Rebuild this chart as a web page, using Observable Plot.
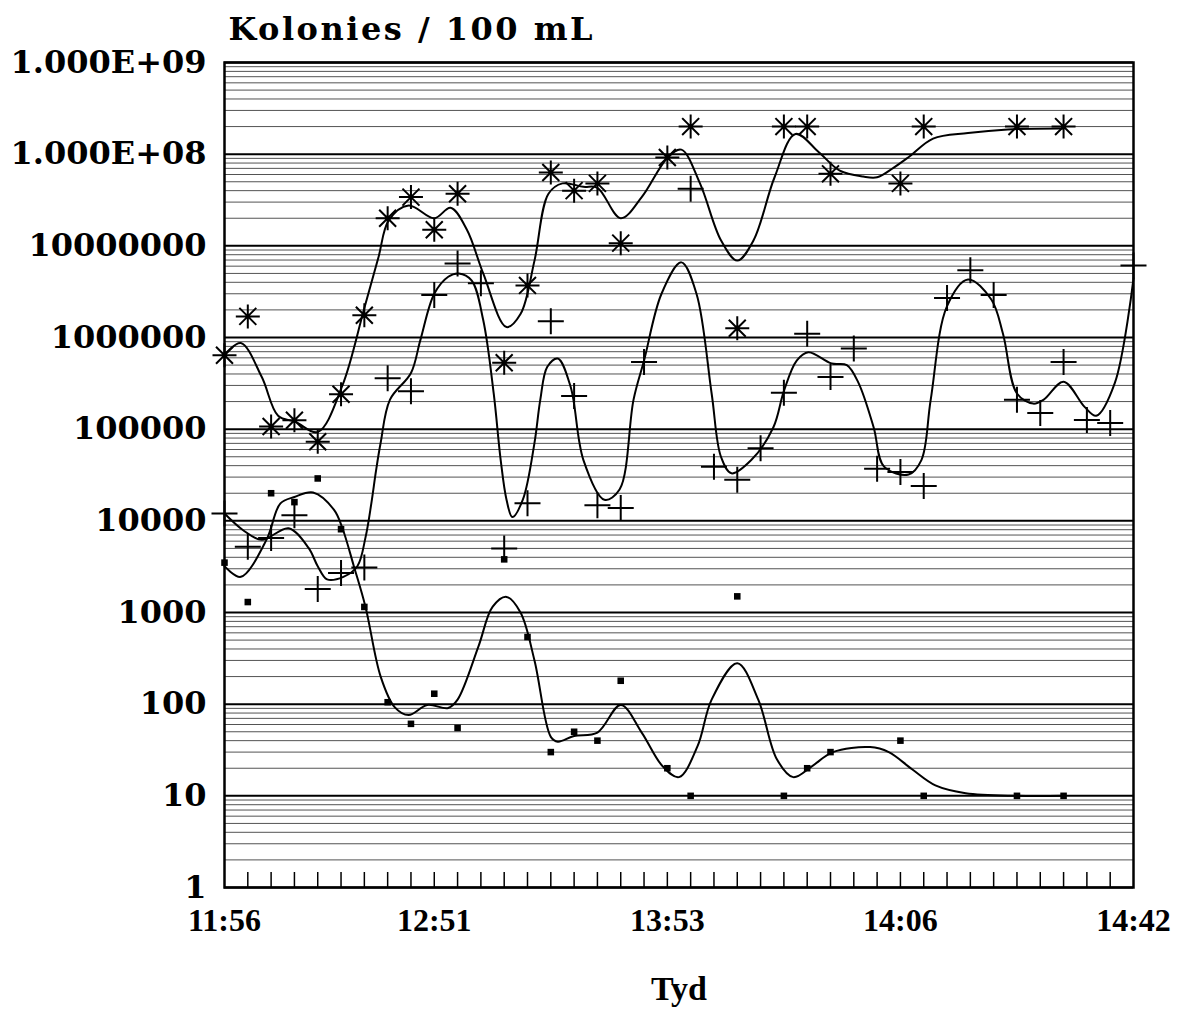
<!DOCTYPE html>
<html><head><meta charset="utf-8">
<script src="https://cdn.jsdelivr.net/npm/d3@7"></script>
<script src="https://cdn.jsdelivr.net/npm/@observablehq/plot@0.6"></script>
<style>html,body{margin:0;padding:0;background:#fff} svg{display:block} .title-text{letter-spacing:2.5px}</style>
</head><body><div id="chart"></div>
<script>
// ---- axis labels ----
const titleText = "Kolonies / 100 mL";
const xAxisTitle = "Tyd";
const xTickPositions = [0, 9, 19, 29, 39];
const xTickLabels = ["11:56", "12:51", "13:53", "14:06", "14:42"];
const yTicks = [1, 10, 100, 1000, 1e4, 1e5, 1e6, 1e7, 1e8, 1e9];
const yTickLabels = ["1", "10", "100", "1000", "10000", "100000", "1000000", "10000000", "1.000E+08", "1.000E+09"];
const sampleCount = 40;

// ---- measured points (sample index, colonies / 100 mL) ----
const asteriskIdx = [0,1,2,3,4,5,6,7,8,9,10,12,13,14,15,16,17,19,20,22,24,25,26,29,30,34,36];
const asteriskVal = [6.4e5,1.7e6,1.07e5,1.25e5,7.3e4,2.4e5,1.75e6,2.0e7,3.4e7,1.5e7,3.7e7,5.3e5,3.7e6,6.3e7,4.0e7,4.8e7,1.07e7,9.2e7,2e8,1.26e6,2e8,2e8,6.1e7,4.8e7,2e8,2e8,2e8];

const plusIdx = [0,1,2,3,4,5,6,7,8,9,10,11,12,13,14,15,16,17,18,20,21,22,23,24,25,26,27,28,29,30,31,32,33,34,35,36,37,38,39];
const plusVal = [1.2e4,5.2e3,6.5e3,1.15e4,1.8e3,2.7e3,3.1e3,3.6e5,2.6e5,2.9e6,6.4e6,3.9e6,5.0e3,1.56e4,1.5e6,2.3e5,1.48e4,1.38e4,5.4e5,4.2e7,3.9e4,2.8e4,6.2e4,2.5e5,1.1e6,3.7e5,7.6e5,3.7e4,3.4e4,2.4e4,2.7e6,5.4e6,2.9e6,2.1e5,1.5e5,5.4e5,1.26e5,1.17e5,6.1e6];

const squareIdx = [0,1,2,3,4,5,6,7,8,9,10,12,13,14,15,16,17,19,20,22,24,25,26,29,30,34,36];
const squareVal = [3.5e3,1.3e3,2.0e4,1.6e4,2.9e4,8.1e3,1.15e3,105,61,130,55,3.8e3,540,30,50,40,180,20,10,1.5e3,10,20,30,40,10,10,10];

// ---- smoothed curves (position in sample units, value) ----
const asteriskCurveX = [0,0.7,1.6,2.3,3.05,4.0,5.06,6.0,6.6,7.05,7.9,9.0,9.7,10.4,11.1,12.1,12.7,13.3,13.9,14.5,15.4,16.0,17.0,17.9,19.0,19.6,20.4,21.3,22.0,22.7,23.6,24.5,25.5,26.4,27.4,28.0,28.7,29.4,30.4,31.9,33.6,36.0];
const asteriskCurveY = [6.5e5,8.7e5,3.7e5,1.4e5,1.2e5,9.3e4,3.0e5,2.1e6,7.4e6,1.9e7,2.75e7,2.0e7,2.6e7,1.5e7,5.0e6,1.3e6,1.8e6,6.9e6,3.7e7,4.8e7,4.4e7,4.3e7,2.0e7,3.4e7,9.1e7,1.12e8,4.8e7,1.15e7,6.9e6,1.15e7,5.6e7,1.66e8,1.05e8,6.6e7,5.7e7,5.6e7,7.1e7,9.5e7,1.48e8,1.7e8,1.86e8,1.9e8];

const plusCurveX = [0,0.8,1.6,2.75,3.6,4.0,4.4,5.1,5.7,6.05,6.3,6.5,6.7,7.1,8.0,8.4,9.0,9.6,10.05,10.6,11.1,11.55,11.85,12.1,12.35,12.8,13.3,13.55,13.85,14.3,14.85,15.4,16.3,16.95,17.55,18.0,18.75,19.6,20.25,20.9,21.3,21.75,22.6,23.55,24.0,24.55,25.05,26.05,26.7,27.2,27.85,28.3,29.35,29.9,30.3,31.0,31.9,32.9,33.4,34.0,34.7,35.15,36.0,36.9,37.4,38.2,39.0];
const plusCurveY = [1.2e4,7.9e3,6.2e3,8.3e3,5.1e3,3.2e3,2.3e3,2.45e3,3.2e3,6.6e3,1.55e4,3.5e4,7.1e4,2.1e5,4.1e5,9.3e5,3.0e6,4.6e6,5.0e6,4.2e6,1.55e6,2.45e5,4.6e4,1.7e4,1.1e4,1.7e4,7.1e4,2.1e5,4.8e5,5.9e5,2.9e5,4.6e4,1.7e4,2.2e4,2.1e5,5.6e5,3.0e6,6.6e6,3.0e6,2.45e5,5.0e4,3.3e4,4.6e4,1.05e5,2.6e5,5.6e5,6.9e5,5.2e5,5.0e5,3.2e5,1.05e5,3.9e4,3.2e4,4.6e4,2.1e5,2.2e6,4.3e6,2.6e6,1.1e6,2.45e5,1.9e5,2.1e5,3.3e5,1.75e5,1.4e5,3.2e5,4.4e6];

const squareCurveX = [0,0.7,1.8,2.4,3.0,3.8,4.7,5.06,5.55,6.05,6.7,7.3,7.9,8.7,9.6,10.0,10.9,11.5,12.1,12.7,13.3,14.0,14.3,15.0,16.0,17.0,17.9,18.8,19.5,20.3,20.9,22.0,22.9,23.7,24.4,25.2,26.1,27.7,28.5,29.5,30.5,31.8,34.0,36.0];
const squareCurveY = [3200,2450,6200,15500,18200,20400,13200,8300,3200,1150,200,93,76,98,91,112,430,1150,1480,1000,300,44,39,45,49,98,49,21,16,35,112,280,112,25,16,21,30,34,30,19.5,13,10.7,10,10];

// ---- build tables ----
const pts = (xs, ys) => xs.map((x, i) => ({x, y: ys[i]}));
const asteriskPts = pts(asteriskIdx, asteriskVal);
const plusPts = pts(plusIdx, plusVal);
const squarePts = pts(squareIdx, squareVal);
const asteriskCurve = pts(asteriskCurveX, asteriskCurveY);
const plusCurve = pts(plusCurveX, plusCurveY);
const squareCurve = pts(squareCurveX, squareCurveY);

const minorGrid = yTicks.slice(0, -1).flatMap(d => [2,3,4,5,6,7,8,9].map(m => d * m));
const xMinorTicks = d3.range(1, sampleCount - 1);

// custom stroked symbols
const asterisk8 = {draw(ctx) {
  const r = 12, d = r * Math.SQRT1_2;
  ctx.moveTo(-r, 0); ctx.lineTo(r, 0);
  ctx.moveTo(0, -r); ctx.lineTo(0, r);
  ctx.moveTo(-d, -d); ctx.lineTo(d, d);
  ctx.moveTo(-d, d); ctx.lineTo(d, -d);
}};
const plusThin = {draw(ctx) {
  const r = 13;
  ctx.moveTo(-r, 0); ctx.lineTo(r, 0);
  ctx.moveTo(0, -r); ctx.lineTo(0, r);
}};

const plotH = 1013 - 62 - 126;
const chart = Plot.plot({
  width: 1182, height: 1013,
  marginLeft: 224, marginRight: 49, marginTop: 62, marginBottom: 126,
  x: {domain: [0, sampleCount - 1]},
  y: {type: "log", domain: [1, 1e9]},
  style: {fontFamily: "DejaVu Serif", background: "white", color: "black"},
  marks: [
    Plot.ruleY(minorGrid, {stroke: "#1a1a1a", strokeWidth: 1, strokeOpacity: 0.75}),
    Plot.ruleY(yTicks, {stroke: "black", strokeWidth: 2}),
    Plot.tickX(xMinorTicks, {x: d => d, insetTop: plotH - 15, stroke: "black", strokeWidth: 1.5}),
    Plot.frame({stroke: "black", strokeWidth: 2.5}),
    Plot.axisY({ticks: yTicks, tickFormat: d => yTickLabels[yTicks.indexOf(d)], tickSize: 0, tickPadding: 18,
      fontSize: 32, fontWeight: "bold", fontFamily: "DejaVu Serif", label: null}),
    Plot.axisX({ticks: xTickPositions, tickFormat: d => xTickLabels[xTickPositions.indexOf(d)], tickSize: 0, tickPadding: 21,
      fontSize: 32, fontWeight: "bold", fontFamily: "Liberation Serif", label: null}),
    Plot.line(asteriskCurve, {x: "x", y: "y", curve: "catmull-rom", stroke: "black", strokeWidth: 2}),
    Plot.line(plusCurve, {x: "x", y: "y", curve: "catmull-rom", stroke: "black", strokeWidth: 2}),
    Plot.line(squareCurve, {x: "x", y: "y", curve: "catmull-rom", stroke: "black", strokeWidth: 2}),
    Plot.dot(asteriskPts, {x: "x", y: "y", symbol: asterisk8, fill: "none", stroke: "black", strokeWidth: 2}),
    Plot.dot(plusPts, {x: "x", y: "y", symbol: plusThin, fill: "none", stroke: "black", strokeWidth: 2}),
    Plot.dot(squarePts, {x: "x", y: "y", symbol: "square", r: 3.7, fill: "black", stroke: "none"}),
    Plot.text([titleText], {text: d => d, frameAnchor: "top-left", textAnchor: "start", lineAnchor: "middle", dx: 4, dy: -33,
      fontSize: 32, fontWeight: "bold", fontFamily: "DejaVu Serif", className: "title-text"}),
    Plot.text([xAxisTitle], {text: d => d, frameAnchor: "bottom", lineAnchor: "middle", dy: 102,
      fontSize: 34, fontWeight: "bold", fontFamily: "Liberation Serif"})
  ]
});
document.getElementById("chart").appendChild(chart);
</script>
</body></html>
